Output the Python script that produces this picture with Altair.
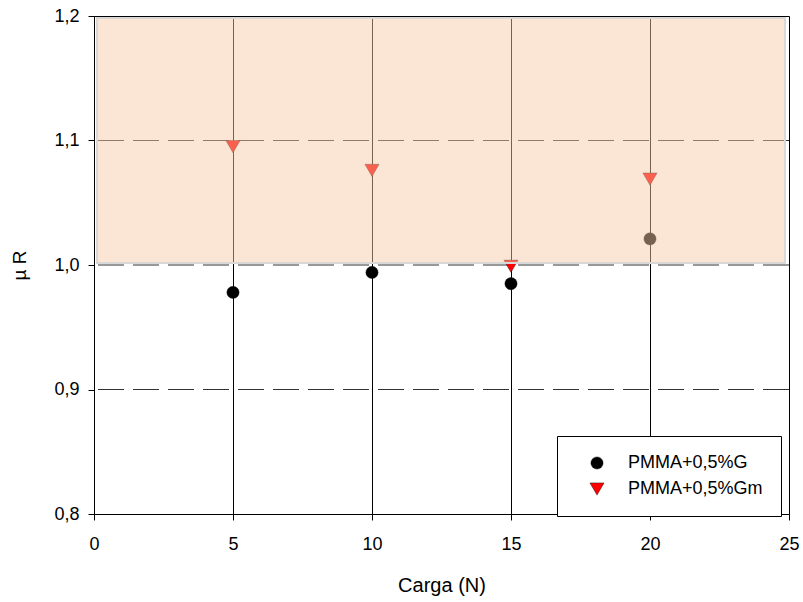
import altair as alt
import pandas as pd

# ---- data ----
carga = [5, 10, 15, 20]
mu_g = [0.978, 0.994, 0.985, 1.021]
mu_gm = [1.095, 1.076, 0.999, 1.069]
series_names = ["PMMA+0,5%G", "PMMA+0,5%Gm"]
x_ticks = [0, 5, 10, 15, 20, 25]
y_ticks = [0.8, 0.9, 1.0, 1.1, 1.2]
grid_x = [5, 10, 15, 20]
grid_y = [0.9, 1.0, 1.1]
band_x = [0, 25]
band_y = [1.0, 1.2]

FONT = "Liberation Sans"

points = pd.DataFrame({
    "carga": carga + carga,
    "mu": mu_g + mu_gm,
    "serie": [series_names[0]] * len(carga) + [series_names[1]] * len(carga),
})
gx = pd.DataFrame({"carga": grid_x})
gy = pd.DataFrame({"mu": grid_y})
band = pd.DataFrame({"x0": [band_x[0]], "x1": [band_x[1]], "y0": [band_y[0]], "y1": [band_y[1]]})

xs = alt.Scale(domain=[0, 25], nice=False, zero=False)
ys = alt.Scale(domain=[0.8, 1.2], nice=False, zero=False)

x_axis = alt.Axis(
    values=x_ticks, format="d", title="Carga (N)", grid=False, labelFlush=False,
    labelFont=FONT, labelFontSize=18, labelColor="black", labelPadding=15,
    tickSize=6, tickColor="black", domainColor="black",
    titleFont=FONT, titleFontSize=20, titleFontWeight="normal", titleColor="black",
    titlePadding=22,
)
y_axis = alt.Axis(
    values=y_ticks, title="µ R", grid=False, labelFlush=False,
    labelExpr="replace(format(datum.value, '.1f'), '.', ',')",
    labelFont=FONT, labelFontSize=18, labelColor="black", labelPadding=9,
    tickSize=6, tickColor="black", domainColor="black",
    titleFont=FONT, titleFontSize=19, titleFontWeight="normal", titleColor="black",
    titlePadding=24,
)

vlines = alt.Chart(gx).mark_rule(color="black", strokeWidth=1, xOffset=0.5).encode(
    x=alt.X("carga:Q", scale=xs, axis=x_axis)
)
hlines = alt.Chart(gy).mark_rule(color="#333333", strokeWidth=1, strokeDash=[26, 9]).encode(
    y=alt.Y("mu:Q", scale=ys, axis=y_axis)
)

pts = alt.Chart(points).mark_point(filled=True, opacity=1, stroke="black", strokeWidth=0.4).encode(
    x=alt.X("carga:Q", scale=xs, axis=x_axis),
    y=alt.Y("mu:Q", scale=ys, axis=y_axis),
    color=alt.Color("serie:N", scale=alt.Scale(domain=series_names, range=["black", "red"]),
                    legend=alt.Legend(title=None)),
    shape=alt.Shape("serie:N", scale=alt.Scale(domain=series_names, range=["circle", "triangle-down"]),
                    legend=alt.Legend(title=None)),
    size=alt.Size("serie:N", scale=alt.Scale(domain=series_names, range=[150, 200]),
                  legend=alt.Legend(title=None)),
)

rect = alt.Chart(band).mark_rect(
    fill="#f6c8a5", fillOpacity=0.48, stroke="#d8d8d8", strokeWidth=2, strokeOpacity=1,
    xOffset=3, x2Offset=-4, yOffset=-2, y2Offset=2,
).encode(
    x=alt.X("x0:Q", scale=xs, axis=x_axis),
    x2="x1:Q",
    y=alt.Y("y0:Q", scale=ys, axis=y_axis),
    y2="y1:Q",
)

chart = alt.layer(vlines, hlines, pts, rect).properties(
    width=695, height=498,
    autosize=alt.AutoSizeParams(type="none"),
    padding={"left": 94, "top": 16, "right": 14, "bottom": 88},
    background="white",
).configure_view(
    stroke="black", strokeWidth=1
).configure_legend(
    orient="none", legendX=463, legendY=420,
    fillColor="white", strokeColor="black", strokeWidth=1,
    padding=18, labelFont=FONT, labelFontSize=18, labelColor="black",
    symbolOffset=13, labelOffset=22, rowPadding=8,
    symbolStrokeColor="black", symbolStrokeWidth=0.4,
)

chart.save("out.html", embed_options={"renderer": "svg", "actions": False})
